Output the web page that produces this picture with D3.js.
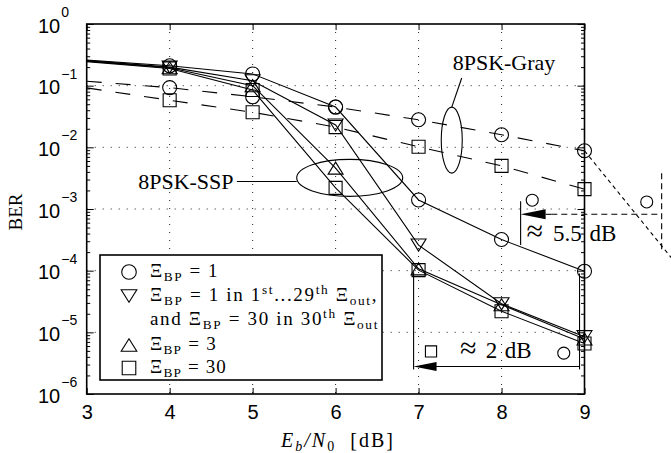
<!DOCTYPE html>
<html>
<head>
<meta charset="utf-8">
<script src="https://cdn.jsdelivr.net/npm/d3@7"></script>
<style>
  html, body { margin: 0; padding: 0; background: #fff; }
  svg { display: block; }
  .num { font-family: "Liberation Sans", Arial, sans-serif; }
  .tex { font-family: "Liberation Serif", "Times New Roman", serif; white-space: pre; }
</style>
</head>
<body>
<svg id="chart" width="671" height="453"></svg>
<script>
// Eb/N0 in dB
const ebn0 = [3, 4, 5, 6, 7, 8, 9];

// 8PSK-SSP, solid lines
const sspBp1 = [0.26, 0.21, 0.155, 0.045, 1.4e-3, 3.2e-4, 9.8e-5];
const sspMix = [0.255, 0.2, 0.12, 0.023, 2.6e-4, 2.9e-5, 8.5e-6];
const sspBp3 = [0.25, 0.195, 0.1, 4.6e-3, 1.07e-4, 2.8e-5, 7.8e-6];
const sspBp30 = [0.245, 0.19, 0.085, 2.2e-3, 1.02e-4, 2.2e-5, 6.6e-6];

// 8PSK-Gray, dashed lines
const grayBp1 = [0.118, 0.093, 0.066, 0.045, 0.028, 0.016, 8.8e-3];
const grayBp30 = [0.092, 0.058, 0.037, 0.0213, 0.0102, 5.0e-3, 2.1e-3];

const xTickValues = [3, 4, 5, 6, 7, 8, 9];
const yTickExps = [0, -1, -2, -3, -4, -5, -6];

const legendMarkers = ["circle", "down", null, "up", "square"];
const legendTexts = [
  [["Ξ"], ["BP", "sub"], [" = 1"]],
  [["Ξ"], ["BP", "sub"], [" = 1 in 1"], ["st", "sup"], ["...29"], ["th", "sup"], [" Ξ"], ["out", "sub"], [","]],
  [["and Ξ"], ["BP", "sub"], [" = 30 in 30"], ["th", "sup"], [" Ξ"], ["out", "sub"]],
  [["Ξ"], ["BP", "sub"], [" = 3"]],
  [["Ξ"], ["BP", "sub"], [" = 30"]],
];
const legendWidths = [69, 228, 229, 67, 77];

const svg = d3.select("#chart");
const pL = 86.7, pR = 584.5, pT = 24, pB = 394;

const x = d3.scaleLinear().domain([3, 9]).range([pL, pR]);
const y = d3.scaleLog().domain([1, 1e-6]).range([pT, pB]);

function markerPath(kind, s) {
  const p = d3.path();
  if (kind === "circle") {
    p.moveTo(s, 0);
    p.arc(0, 0, s, 0, 2 * Math.PI);
  } else if (kind === "square") {
    p.rect(-s * 0.93, -s * 0.93, s * 1.86, s * 1.86);
  } else if (kind === "up") {
    p.moveTo(0, -s * 0.86);
    p.lineTo(s * 1.07, s * 0.86);
    p.lineTo(-s * 1.07, s * 0.86);
    p.closePath();
  } else {
    p.moveTo(0, s * 0.86);
    p.lineTo(s * 1.07, -s * 0.86);
    p.lineTo(-s * 1.07, -s * 0.86);
    p.closePath();
  }
  return p.toString();
}

function richText(sel, parts, size) {
  let shift = 0;
  parts.forEach(([txt, kind]) => {
    const target = kind === "sub" ? size * 0.22 : kind === "sup" ? -size * 0.36 : 0;
    sel.append("tspan")
      .attr("dy", target - shift)
      .attr("font-size", kind ? size * 0.7 : size)
      .text(txt);
    shift = target;
  });
}

// stretch a text to the width it has in the picture (CM is wider than Times)
function fitWidth(sel, target) {
  const node = sel.node();
  const w = node.getComputedTextLength();
  const n = node.textContent.length;
  if (n > 1) sel.attr("letter-spacing", ((target - w) / n).toFixed(2));
}

// grid
const majors = yTickExps.map((e) => Math.pow(10, e));
const grid = svg.append("g").attr("stroke", "#222").attr("stroke-width", 1)
  .attr("stroke-dasharray", "1,7");
grid.selectAll(".gx").data(xTickValues.slice(1, -1)).join("line")
  .attr("x1", (d) => x(d)).attr("x2", (d) => x(d))
  .attr("y1", pT).attr("y2", pB);
grid.selectAll(".gy").data(majors.slice(1, -1)).join("line")
  .attr("y1", (d) => y(d)).attr("y2", (d) => y(d))
  .attr("x1", pL).attr("x2", pR);

// curves
const series = [
  { values: sspBp1, marker: "circle", dash: null },
  { values: sspMix, marker: "down", dash: null },
  { values: sspBp3, marker: "up", dash: null },
  { values: sspBp30, marker: "square", dash: null },
  { values: grayBp1, marker: "circle", dash: "15,14" },
  { values: grayBp30, marker: "square", dash: "15,14" },
];
const line = d3.line().x((d) => x(d[0])).y((d) => y(d[1]));

const sg = svg.append("g").selectAll("g").data(series).join("g");
sg.append("path")
  .attr("d", (s) => line(ebn0.map((e, i) => [e, s.values[i]])))
  .attr("fill", "none")
  .attr("stroke", "#000")
  .attr("stroke-width", 1.1)
  .attr("stroke-dasharray", (s) => s.dash);
sg.each(function (s) {
  d3.select(this).selectAll("path.mk")
    .data(ebn0.map((e, i) => [e, s.values[i]]).slice(1))
    .join("path")
    .attr("class", "mk")
    .attr("d", markerPath(s.marker, 7))
    .attr("transform", (d) => `translate(${x(d[0])},${y(d[1])})`)
    .attr("fill", "none")
    .attr("stroke", "#000")
    .attr("stroke-width", 1.1);
});

// axes (ticks inward)
const axes = svg.append("g");
axes.append("g").attr("transform", `translate(0,${pB})`)
  .call(d3.axisBottom(x).tickValues(xTickValues).tickSize(-6).tickPadding(11).tickFormat(d3.format("d")))
  .call((g) => g.select(".domain").remove())
  .call((g) => g.selectAll("text").attr("class", "num").attr("font-size", 20).attr("fill", "#000"));
axes.append("g").attr("transform", `translate(0,${pT})`)
  .call(d3.axisTop(x).tickValues(xTickValues).tickSize(-6).tickFormat(""))
  .call((g) => g.select(".domain").remove());

const minors = [];
yTickExps.slice(1).forEach((e) => {
  for (let k = 2; k <= 9; k++) minors.push(k * Math.pow(10, e));
});
[[d3.axisLeft, pL], [d3.axisRight, pR]].forEach(([ax, px]) => {
  axes.append("g").attr("transform", `translate(${px},0)`)
    .call(ax(y).tickValues(majors).tickSize(-7).tickFormat(""))
    .call((g) => g.select(".domain").remove());
  axes.append("g").attr("transform", `translate(${px},0)`)
    .call(ax(y).tickValues(minors).tickSize(-3.5).tickFormat(""))
    .call((g) => g.select(".domain").remove());
});
axes.selectAll(".tick line").attr("stroke-width", 1);
axes.selectAll("g").attr("font-family", null).attr("font-size", null);

// y tick labels 10^n
svg.append("g").selectAll("text").data(yTickExps).join("text")
  .attr("class", "num")
  .attr("x", 38)
  .attr("y", (e) => y(Math.pow(10, e)) + 8.5)
  .each(function (e) {
    const t = d3.select(this);
    t.append("tspan").attr("font-size", 20).text("10");
    t.append("tspan").attr("font-size", 14).attr("dy", -15.5).attr("dx", 1)
      .text(e === 0 ? "0" : "\u2212" + Math.abs(e));
  });

// frame
svg.append("rect")
  .attr("x", pL).attr("y", pT)
  .attr("width", pR - pL).attr("height", pB - pT)
  .attr("fill", "none").attr("stroke", "#000").attr("stroke-width", 1.6);

// axis titles
const xl = svg.append("text").attr("class", "tex")
  .attr("x", 281).attr("y", 447)
  .attr("font-size", 20);
xl.append("tspan").attr("font-style", "italic").text("E");
xl.append("tspan").attr("font-style", "italic").attr("font-size", 14).attr("dy", 4).text("b");
xl.append("tspan").attr("font-style", "italic").attr("dy", -4).text("/N");
xl.append("tspan").attr("font-size", 14).attr("dy", 4).text("0");
xl.append("tspan").attr("dy", -4).text("  [dB]");
fitWidth(xl, 114);

svg.append("text").attr("class", "tex")
  .attr("transform", `translate(22,${(pT + pB) / 2 + 3}) rotate(-90)`)
  .attr("text-anchor", "middle").attr("font-size", 19)
  .text("BER");

// legend
const lg = svg.append("g");
lg.append("rect").attr("x", 100).attr("y", 255).attr("width", 282).attr("height", 125)
  .attr("fill", "#fff").attr("stroke", "#000").attr("stroke-width", 1.6);
const rowY = [272, 296, 320, 345, 368];
legendTexts.forEach((parts, i) => {
  if (legendMarkers[i]) {
    lg.append("path").attr("d", markerPath(legendMarkers[i], 7.3))
      .attr("transform", `translate(129,${rowY[i]})`)
      .attr("fill", "none").attr("stroke", "#000").attr("stroke-width", 1.1);
  }
  const t = lg.append("text").attr("class", "tex").attr("x", 150).attr("y", rowY[i] + 5);
  richText(t, parts, 19);
  fitWidth(t, legendWidths[i]);
});

// annotations
const ann = svg.append("g").attr("stroke", "#000").attr("fill", "none").attr("stroke-width", 1.1);

// 8PSK-SSP ellipse + label
ann.append("ellipse").attr("cx", x(6.17)).attr("cy", y(3.2e-3)).attr("rx", 53).attr("ry", 18.5);
ann.append("line").attr("x1", x(4.81)).attr("x2", x(6.17) - 53)
  .attr("y1", y(2.8e-3)).attr("y2", y(2.8e-3));
svg.append("text").attr("class", "tex").attr("x", x(4.77)).attr("y", y(2.1e-3))
  .attr("text-anchor", "end").attr("font-size", 22).text("8PSK-SSP");

// 8PSK-Gray ellipse + label
ann.append("ellipse").attr("cx", x(7.4)).attr("cy", y(0.0131)).attr("rx", 10.5).attr("ry", 33);
ann.append("line").attr("x1", x(7.4)).attr("y1", y(0.0131) - 33)
  .attr("x2", x(7.52)).attr("y2", y(0.133));
svg.append("text").attr("class", "tex").attr("x", x(8.03)).attr("y", y(0.179))
  .attr("text-anchor", "middle").attr("font-size", 22).text("8PSK-Gray");

// approx N dB labels: pieces placed where they sit in the picture
function approxLabel(xs, yv, pieces) {
  const t = svg.append("text").attr("class", "tex").attr("y", y(yv)).attr("font-size", 23);
  pieces.forEach((p, i) => {
    t.append("tspan").attr("x", x(xs[i])).attr("font-size", i === 0 ? 30 : 23).text(p);
  });
}

// approx 5.5 dB
const y55 = y(8.2e-4);
ann.append("line").attr("x1", x(8.23)).attr("x2", x(8.23)).attr("y1", y(1.34e-3)).attr("y2", y(2.6e-4));
ann.append("path").attr("fill", "#000").attr("stroke", "none")
  .attr("d", `M${x(8.23)},${y55}L${x(8.23) + 25},${y55 - 5}L${x(8.23) + 25},${y55 + 5}Z`);
ann.append("line").attr("x1", x(8.23) + 25).attr("x2", x(8.6)).attr("y1", y55).attr("y2", y55);
ann.append("line").attr("x1", x(8.6)).attr("x2", x(9.93)).attr("y1", y55).attr("y2", y55)
  .attr("stroke-dasharray", "6,4");
ann.append("line").attr("x1", x(9.93)).attr("x2", x(9.93)).attr("y1", y(3.8e-3)).attr("y2", y(2.1e-4))
  .attr("stroke-dasharray", "6,4");
ann.append("line").attr("x1", x(9)).attr("y1", y(8.8e-3)).attr("x2", x(10.05)).attr("y2", y(1.6e-4))
  .attr("stroke-dasharray", "4,3.5");
ann.append("path").attr("d", markerPath("circle", 6)).attr("transform", `translate(${x(8.37)},${y(1.39e-3)})`);
ann.append("path").attr("d", markerPath("circle", 6)).attr("transform", `translate(${x(9.75)},${y(1.3e-3)})`);
approxLabel([8.3, 8.62, 9.06], 3.0e-4, ["\u2248", "5.5", "dB"]);

// approx 2 dB
const y2 = y(2.8e-6);
ann.append("line").attr("x1", x(6.94)).attr("x2", x(6.94)).attr("y1", y(9.4e-5)).attr("y2", y(2.5e-6));
ann.append("line").attr("x1", x(8.94)).attr("x2", x(8.94)).attr("y1", y(9.0e-5)).attr("y2", y(2.5e-6));
ann.append("line").attr("x1", x(6.94) + 22).attr("x2", x(8.94)).attr("y1", y2).attr("y2", y2);
ann.append("path").attr("fill", "#000").attr("stroke", "none")
  .attr("d", `M${x(6.94)},${y2}L${x(6.94) + 23},${y2 - 4.5}L${x(6.94) + 23},${y2 + 4.5}Z`);
ann.append("path").attr("d", markerPath("square", 6)).attr("transform", `translate(${x(7.15)},${y(4.9e-6)})`);
ann.append("path").attr("d", markerPath("circle", 6)).attr("transform", `translate(${x(8.75)},${y(4.6e-6)})`);
approxLabel([7.5, 7.81, 8.04], 3.8e-6, ["\u2248", "2", "dB"]);
</script>
</body>
</html>
